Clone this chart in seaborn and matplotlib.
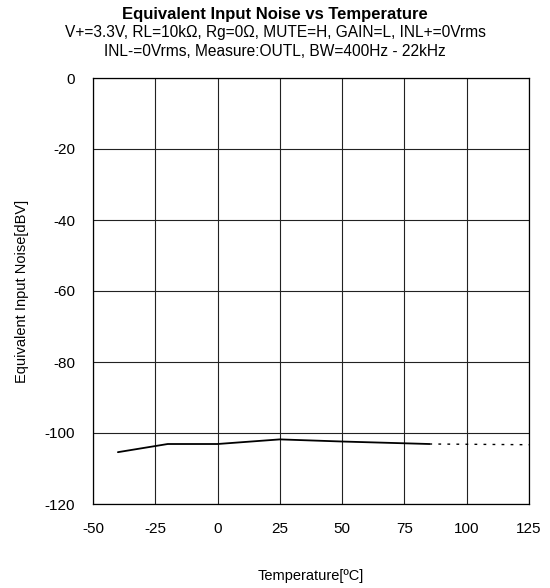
import numpy as np
import pandas as pd
import matplotlib
matplotlib.use('Agg')
import matplotlib.pyplot as plt
import seaborn as sns

# measured curve (solid part) and extrapolated part (dotted)
temp_meas = [-40, -20, 0, 25, 50, 85]
noise_meas = [-105.4, -103.1, -103.1, -101.8, -102.4, -103.1]
temp_ext = [85, 125]
noise_ext = [-103.1, -103.3]

x_ticks = [-50, -25, 0, 25, 50, 75, 100, 125]
y_ticks = [-120, -100, -80, -60, -40, -20, 0]

sns.set_style('white')
plt.rcParams['font.family'] = ['Liberation Sans', 'DejaVu Sans']
plt.rcParams['axes.unicode_minus'] = False
for k in ['text.color', 'axes.labelcolor', 'xtick.color', 'ytick.color']:
    plt.rcParams[k] = 'black'

fig = plt.figure(figsize=(5.5, 5.88), dpi=100)
# plot box: x 93..529 px, y 78..504 px
ax = fig.add_axes([93 / 550, 1 - 504 / 588, 436 / 550, 426 / 588])

df_meas = pd.DataFrame({'temp': temp_meas, 'noise': noise_meas})
df_ext = pd.DataFrame({'temp': temp_ext, 'noise': noise_ext})
sns.lineplot(data=df_meas, x='temp', y='noise', ax=ax, color='black', linewidth=1.3)
sns.lineplot(data=df_ext, x='temp', y='noise', ax=ax, color='black', linewidth=1.0,
             linestyle=(0, (2, 4.5)))

ax.set_xlim(-50, 125)
ax.set_ylim(-120, 0)
ax.set_xticks(x_ticks)
ax.set_yticks(y_ticks)
ax.grid(True, color='#222222', linewidth=0.8)
for s in ax.spines.values():
    s.set_color('black')
    s.set_linewidth(0.9)
ax.tick_params(axis='both', length=0, labelsize=11, pad=13)
ax.set_xlabel('Temperature[ºC]', fontsize=10.5, labelpad=24)
ax.set_ylabel('Equivalent Input Noise[dBV]', fontsize=10.5, labelpad=11)

fig.text(0.5, 1 - 15 / 588, 'Equivalent Input Noise vs Temperature', ha='center', va='center',
         fontsize=12, fontweight='bold')
fig.text(0.5, 1 - 32 / 588, 'V+=3.3V, RL=10kΩ, Rg=0Ω, MUTE=H, GAIN=L, INL+=0Vrms',
         ha='center', va='center', fontsize=11.2)
fig.text(0.5, 1 - 51 / 588, 'INL-=0Vrms, Measure:OUTL, BW=400Hz - 22kHz',
         ha='center', va='center', fontsize=11.2)

fig.savefig('out.png', dpi=100)
